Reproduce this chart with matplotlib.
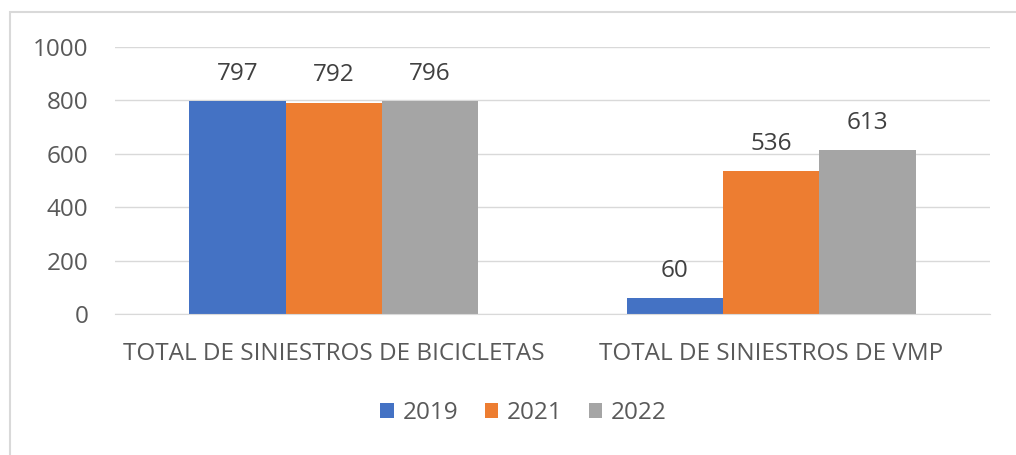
import numpy as np
import matplotlib.pyplot as plt
from matplotlib.patches import Rectangle

categories = ["TOTAL DE SINIESTROS DE BICICLETAS", "TOTAL DE SINIESTROS DE VMP"]
years = ["2019", "2021", "2022"]
values = {
    "2019": [797, 60],
    "2021": [792, 536],
    "2022": [796, 613],
}
colors = ["#4472C4", "#ED7D31", "#A5A5A5"]

plt.rcParams["font.family"] = ["Open Sans", "DejaVu Sans"]
text_color = "#595959"
fs = 17.5

fig = plt.figure(figsize=(10.16, 4.55), dpi=100)
fig.patches.append(Rectangle((10 / 1016, -0.1), 1.2, 1 - 12 / 455 + 0.1,
                             transform=fig.transFigure, fill=False,
                             edgecolor="#D9D9D9", lw=1.5))
ax = fig.add_axes([115 / 1016, 1 - 314 / 455, 875 / 1016, 267 / 455])

x = np.arange(len(categories))
width = 0.22
for i, (yr, c) in enumerate(zip(years, colors)):
    pos = x + (i - 1) * width
    bars = ax.bar(pos, values[yr], width, color=c, label=yr, zorder=3)
    for b, v in zip(bars, values[yr]):
        ax.annotate(str(v), (b.get_x() + b.get_width() / 2, v),
                    xytext=(0, 11), textcoords="offset points",
                    ha="center", va="bottom", fontsize=fs, color="#404040")

ax.set_xlim(-0.5, 1.5)
ax.set_ylim(0, 1000)
ax.set_yticks(range(0, 1001, 200))
ax.yaxis.grid(True, color="#D9D9D9", lw=1, zorder=0)
ax.set_xticks(x)
ax.set_xticklabels(categories)
ax.tick_params(axis="both", length=0, labelsize=fs, labelcolor=text_color)
ax.tick_params(axis="x", pad=20)
ax.tick_params(axis="y", pad=19)
for s in ["top", "right", "left"]:
    ax.spines[s].set_visible(False)
ax.spines["bottom"].set_color("#D9D9D9")
ax.spines["bottom"].set_zorder(4)

leg = ax.legend(loc="center", bbox_to_anchor=(0.467, -0.37), ncol=3, frameon=False,
                fontsize=fs, handlelength=0.55, handleheight=0.55, handletextpad=0.35,
                columnspacing=1.1)
for t in leg.get_texts():
    t.set_color(text_color)

fig.savefig("out.png", dpi=100)
